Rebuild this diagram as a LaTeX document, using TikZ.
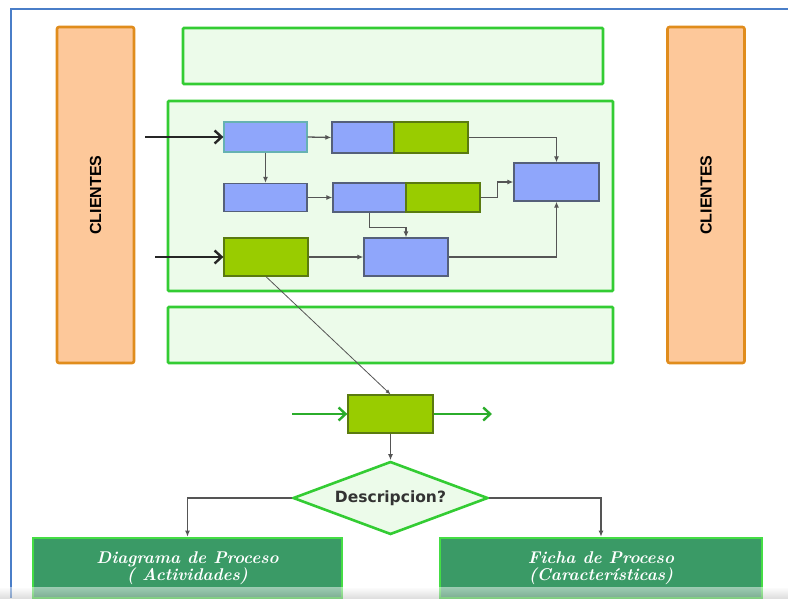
\documentclass[tikz,border=0pt]{standalone}
\usepackage{fontspec}
\setsansfont{Liberation Sans}
\newfontfamily\descfont{DejaVu Sans}
\usepackage{tikz}
\usetikzlibrary{arrows.meta,positioning,calc,shapes.geometric}
\usepackage{xcolor}
\definecolor{frameblue}{HTML}{4A7EC8}
\definecolor{zonegreen}{HTML}{33CC33}
\definecolor{zonefill}{HTML}{ECFBEA}
\definecolor{clientorange}{HTML}{E08C1C}
\definecolor{clientfill}{HTML}{FDC89A}
\definecolor{taskblue}{HTML}{8FA6FB}
\definecolor{taskline}{HTML}{55607A}
\definecolor{tasklime}{HTML}{99CC00}
\definecolor{limeline}{HTML}{5A7A10}
\definecolor{resultgreen}{HTML}{3A9A66}
\definecolor{resultline}{HTML}{44DD44}
\definecolor{linkgray}{HTML}{555555}
\tikzset{
  clientbox/.style={
    rounded corners=2pt,
    draw=clientorange,
    fill=clientfill,
    line width=2.6pt,
    minimum width=77pt,
    minimum height=336pt,
    inner sep=0pt
  },
  zonebox/.style={
    rounded corners=1pt,
    draw=zonegreen,
    fill=zonefill,
    line width=2.6pt,
    inner sep=0pt
  },
  bluetask/.style={
    draw=taskline,
    fill=taskblue,
    line width=1.3pt,
    minimum width=83pt,
    minimum height=29pt,
    inner sep=0pt
  },
  limetask/.style={
    draw=limeline,
    fill=tasklime,
    line width=1.3pt,
    minimum width=84pt,
    minimum height=38pt,
    inner sep=0pt
  },
  resultbox/.style={
    draw=resultline,
    fill=resultgreen,
    line width=2.6pt,
    minimum height=60pt,
    inner sep=0pt,
    align=center,
    text=white,
    font=\fontsize{17}{17}\selectfont\rmfamily\bfseries\itshape
  },
  link/.style={
    -{Latex[length=6pt,width=5pt]},
    line width=1.3pt,
    draw=linkgray
  },
  bigarrow/.style={
    -{Straight Barb[length=7pt,width=13pt,line width=2.4pt]},
    line width=2.6pt,
    draw=black!85
  },
  greenarrow/.style={
    -{Straight Barb[length=7pt,width=13pt,line width=2.4pt]},
    line width=2.4pt,
    draw=zonegreen!85!black
  }
}
\begin{document}
\begin{tikzpicture}[x=1pt,y=-1pt]
\useasboundingbox (0,0) rectangle (788,598);
\fill[white] (0,0) rectangle (788,598);
\draw[frameblue, line width=1.6pt] (788,9) -- (11,9) -- (11,598);

\node[clientbox] (cliL) at (95.5,195) {\rotatebox{90}{\sffamily\bfseries\fontsize{16}{16}\selectfont CLIENTES}};
\node[clientbox] (cliR) at (706,195) {\rotatebox{90}{\sffamily\bfseries\fontsize{16}{16}\selectfont CLIENTES}};

\node[zonebox, minimum width=420pt, minimum height=56pt] (zoneTop) at (393,56) {};
\node[zonebox, minimum width=445pt, minimum height=190pt] (zoneMid) at (390.5,196) {};
\node[zonebox, minimum width=445pt, minimum height=56pt] (zoneBot) at (390.5,335) {};

\node[bluetask, draw=teal!60, minimum height=30pt] (actA) at (265.5,137) {};
\node[bluetask, minimum width=62pt, minimum height=31pt] (actBb) at (363,137.5) {};
\node[limetask, minimum width=74pt, minimum height=31pt] (actBg) at (431,137.5) {};
\node[bluetask, minimum height=28pt] (actC) at (265.5,197.5) {};
\node[bluetask, minimum width=73pt] (actDb) at (369.5,197.5) {};
\node[limetask, minimum width=74pt, minimum height=29pt] (actDg) at (443,197.5) {};
\node[limetask] (actE) at (266,257) {};
\node[bluetask, minimum width=84pt, minimum height=38pt] (actF) at (406,257) {};
\node[bluetask, minimum width=85pt, minimum height=38pt] (actG) at (556.5,182) {};

\coordinate (inA) at (145,137);
\coordinate (inE) at (155,257);
\draw[bigarrow] (inA) -- (actA.west);
\draw[bigarrow] (inE) -- (actE.west);

\draw[link] (actA.east) -- (actBb.west);
\draw[link] (actA.south) -- (actC.north);
\draw[link] (actC.east) -- (actDb.west);
\draw[link] (actE.east) -- (actF.west);
\draw[link] (actBg.east) -| (actG.north);
\draw[link] (actDg.east) -- ++(17,0) |- (actG.west);
\draw[link] (actDb.south) -- ++(0,15) -| (actF.north);
\draw[link] (actF.east) -| (actG.south);

\node[limetask, minimum width=85pt] (detail) at (390.5,414) {};
\draw[-{Latex[length=5pt,width=4pt]}, line width=0.8pt, draw=linkgray] (actE.south) -- (detail.north);
\coordinate (inH) at (292,414);
\coordinate (outH) at (492,414);
\draw[greenarrow] (inH) -- (detail.west);
\draw[greenarrow] (detail.east) -- (outH);

\node[diamond, draw=zonegreen, fill=zonefill, line width=2.6pt, aspect=2.67,
  minimum width=195pt, minimum height=73pt, inner sep=0pt,
  font=\descfont\bfseries\fontsize{15.5}{16}\selectfont, text=black!80] (desc) at (390.5,498) {Descripcion?};
\draw[link] (detail.south) -- (desc.north);

\node[resultbox, minimum width=309pt] (diag) at (187.5,568) {Diagrama de Proceso\\( Actividades)};
\node[resultbox, minimum width=322pt] (ficha) at (601,568) {Ficha de Proceso\\(Características)};
\draw[link] (desc.west) -| (diag.north);
\draw[link] (desc.east) -| (ficha.north);

\shade[top color=white, bottom color=black!25, opacity=0.5] (0,587) rectangle (788,598);
\end{tikzpicture}
\end{document}
